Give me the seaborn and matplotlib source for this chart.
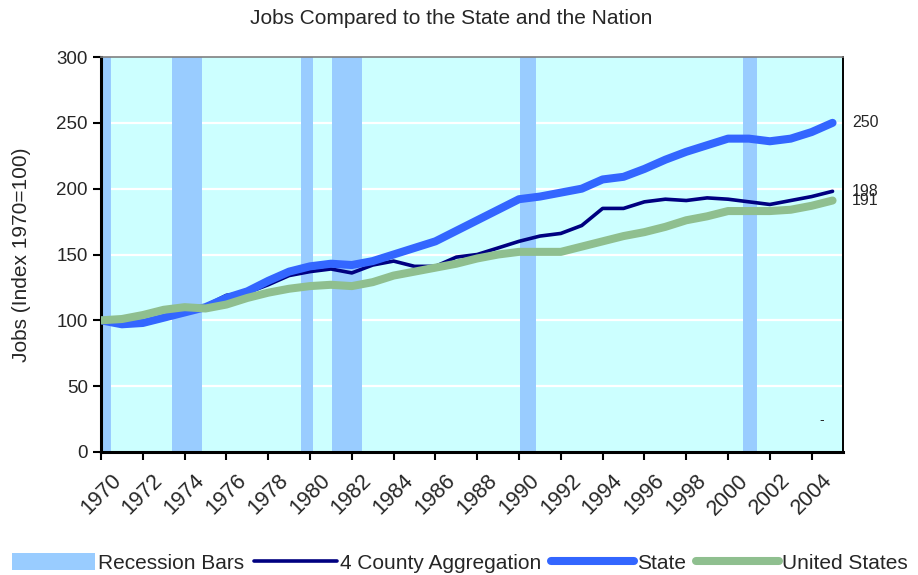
import numpy as np
import pandas as pd
import seaborn as sns
import matplotlib.pyplot as plt
from matplotlib.patches import Patch
from matplotlib.lines import Line2D

# values (index, 1970 = 100)
years = list(range(1970, 2006))
county = [100, 97, 98, 102, 106, 111, 119, 121, 127, 134,
          137, 139, 136, 142, 145, 141, 141, 148, 150, 155,
          160, 164, 166, 172, 185, 185, 190, 192, 191, 193,
          192, 190, 188, 191, 194, 198]
state = [100, 97, 98, 102, 106, 110, 117, 122, 130, 137,
         141, 143, 142, 145, 150, 155, 160, 168, 176, 184,
         192, 194, 197, 200, 207, 209, 215, 222, 228, 233,
         238, 238, 236, 238, 243, 250]
us = [100, 101, 104, 108, 110, 109, 112, 117, 121, 124,
      126, 127, 126, 129, 134, 137, 140, 143, 147, 150,
      152, 152, 152, 156, 160, 164, 167, 171, 176, 179,
      183, 183, 183, 184, 187, 191]

# recession periods (start, end) in fractional years
rec_start = [1970.0, 1973.4, 1979.55, 1981.05, 1990.05, 2000.7]
rec_end = [1970.5, 1974.85, 1980.15, 1982.5, 1990.8, 2001.4]

series_names = ["4 County Aggregation", "State", "United States"]
end_labels = ["198", "250", "191"]

df = pd.DataFrame({"year": years, "4 County Aggregation": county,
                   "State": state, "United States": us})

sns.set_style("white")
plt.rcParams['font.family'] = ['Liberation Sans', 'DejaVu Sans']

fig = plt.figure(figsize=(9.18, 5.75), dpi=100)
ax = fig.add_axes([101 / 918, 1 - 452 / 575, 742 / 918, 395 / 575])
ax.set_facecolor('#CCFFFF')

# white gridlines sit under the recession bars
for v in range(50, 300, 50):
    ax.axhline(v, color='white', linewidth=1.6, zorder=0.5)

# recession bars
ax.bar(rec_start, 300, width=np.array(rec_end) - np.array(rec_start),
       align='edge', color='#99CCFF', edgecolor='none', linewidth=0, zorder=1)

colors = {"4 County Aggregation": "#000080", "State": "#3366FF",
          "United States": "#8FBF8F"}
widths = {"4 County Aggregation": 2.6, "State": 5.8, "United States": 5.8}
for i, name in enumerate(series_names):
    sns.lineplot(data=df, x="year", y=name, ax=ax, color=colors[name],
                 linewidth=widths[name], zorder=3 + i,
                 solid_capstyle='round', solid_joinstyle='round')

ax.set_xlim(1970, 2005.5)
ax.set_ylim(0, 300)
ax.set_yticks(range(0, 301, 50))
ax.set_xticks(range(1970, 2005, 2))
ax.set_xticklabels([str(y) for y in range(1970, 2005, 2)], rotation=45)
ax.tick_params(axis='both', direction='out', length=6, width=1.5,
               color='black', left=True, bottom=True)
ax.tick_params(axis='y', labelsize=13.5)
ax.tick_params(axis='x', labelsize=15.5, pad=7)
ax.set_xlabel("")
ax.set_ylabel("")

for side in ['left', 'bottom']:
    ax.spines[side].set_color('black')
    ax.spines[side].set_linewidth(2.2)
ax.spines['right'].set_color('black')
ax.spines['right'].set_linewidth(1.4)
ax.spines['top'].set_color('#808080')
ax.spines['top'].set_linewidth(1.2)

# end-of-series labels
end_values = [county[-1], state[-1], us[-1]]
for lab, val in zip(end_labels, end_values):
    ax.annotate(lab, xy=(years[-1], val), xytext=(14, 0),
                textcoords='offset points', va='center', ha='left',
                fontsize=11.5, annotation_clip=False)
ax.text(2004.5, 24, "-", fontsize=10, ha='center', va='center')

fig.text(451 / 918, 1 - 18 / 575, "Jobs Compared to the State and the Nation",
         ha='center', va='center', fontsize=15)
fig.text(22 / 918, 1 - 255 / 575, "Jobs (Index 1970=100)", rotation=90,
         ha='center', va='center', fontsize=15)

handles = [Patch(facecolor='#99CCFF', edgecolor='none'),
           Line2D([], [], color=colors["4 County Aggregation"], linewidth=widths["4 County Aggregation"]),
           Line2D([], [], color=colors["State"], linewidth=widths["State"], solid_capstyle='round'),
           Line2D([], [], color=colors["United States"], linewidth=widths["United States"])]
labels = ["Recession Bars"] + series_names
fig.legend(handles, labels, loc='center', bbox_to_anchor=(460 / 918, 1 - 563 / 575),
           ncol=4, frameon=False, fontsize=15, handlelength=4.0,
           handletextpad=0.15, columnspacing=0.45, handleheight=0.9,
           borderpad=0, borderaxespad=0)

fig.savefig("out.png", dpi=100)
